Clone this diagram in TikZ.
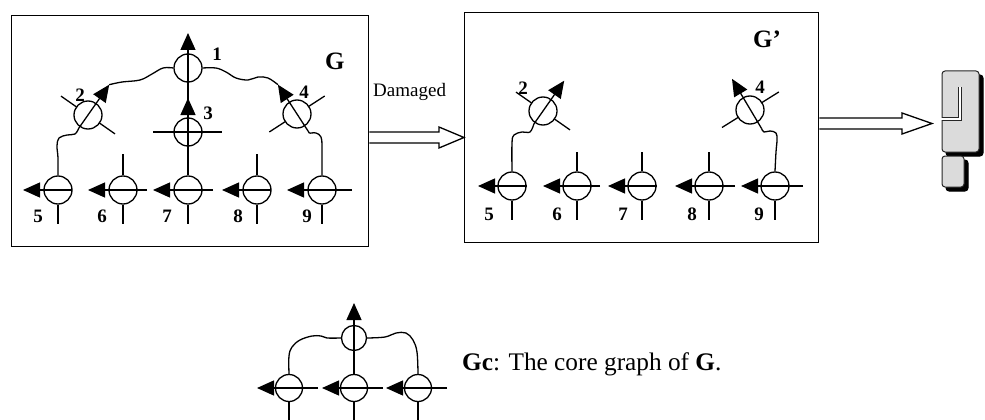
\documentclass[tikz,border=0pt]{standalone}
\usepackage{fontspec}
\setmainfont{Liberation Serif}
\usetikzlibrary{arrows.meta,calc}
\tikzset{
  lw/.style={line width=1.3pt},
  mod/.style={circle, draw, line width=1.3pt, minimum size=28pt, inner sep=0pt},
  modc/.style={mod, minimum size=25pt},
  modb/.style={mod, minimum size=27pt},
  tri/.style={-{Triangle[length=17pt,width=15pt]}},
  num/.style={inner sep=0pt, font=\bfseries\fontsize{19}{20}\selectfont},
  frame/.style={draw, line width=1.3pt, inner sep=0pt, anchor=north west},
  hollow/.style={line width=1.3pt, line join=miter},
  qshadow/.style={fill=black, draw=black, line width=1pt, rounded corners=3pt},
  qfront/.style={fill=black!14, draw=black!85, line width=1pt, rounded corners=3pt},
}
\begin{document}
\begin{tikzpicture}[x=1pt,y=-1pt]
\useasboundingbox (0,0) rectangle (985,420);

% ---------------- frames
\node[frame, minimum width=357pt, minimum height=231pt] (G) at (11,15) {};
\node[frame, minimum width=354pt, minimum height=230pt] (Gp) at (464,12) {};
\node[anchor=base west, inner sep=0pt, font=\bfseries\fontsize{25}{26}\selectfont] (Glab) at (325,70) {G};
\node[anchor=base west, inner sep=0pt, font=\bfseries\fontsize{25}{26}\selectfont] (Gplab) at (753,48) {G’};

% ---------------- graph G
\foreach \n/\x/\r/\up in {g5/58/14/0, g6/123/24/1, g7/188/25/0, g8/257/14/1, g9/322/30/0}{
  \node[mod] (\n) at (\x,190) {};
  \draw[lw,tri] ($(\n.center)+(\r,0)$) -- ($(\n.center)+(-35,0)$);
  \draw[lw] (\n.south) -- ++(0,19);
  \ifnum\up=1 \draw[lw] (\n.north) -- ++(0,-21); \fi
}
\node[mod] (g1) at (188,68) {};
\node[mod] (g3) at (188,132) {};
\node[mod] (g2) at (88,115) {};
\node[mod] (g4) at (297,114) {};
% vertical spine 7 - 3 - 1
\draw[lw,tri] (g7.north) -- ($(g1.center)+(0,-35)$);
\draw[lw,tri] (g3.center) -- ($(g3.center)+(0,-34)$);
\draw[lw] ($(g3.center)+(-35,0)$) -- ($(g3.center)+(34,0)$);
% module 2
\coordinate (g2t) at ($(g2)+(-55:37)$);
\coordinate (g2b) at ($(g2)+(125:16)$);
\draw[lw,tri] (g2b) -- (g2t);
\draw[lw] ($(g2)+(215:14)$) -- ($(g2)+(215:33)$);
\draw[lw] ($(g2)+(35:14)$) -- ($(g2)+(35:33)$);
% module 4
\coordinate (g4t) at ($(g4)+(-123:35)$);
\coordinate (g4b) at ($(g4)+(57:23)$);
\draw[lw,tri] (g4b) -- (g4t);
\draw[lw] ($(g4)+(-33:14)$) -- ($(g4)+(-33:33)$);
\draw[lw] ($(g4)+(147:14)$) -- ($(g4)+(147:33)$);
% wavy links
\draw[lw] plot[smooth, tension=0.6] coordinates {(g1.west) (163,68) (152,74) (140,80) (122,82) (g2t)};
\draw[lw] plot[smooth, tension=0.6] coordinates {(g1.east) (216,68) (226,72) (236,78) (248,80) (258,77) (268,78) (g4t)};
\draw[lw] plot[smooth, tension=0.6] coordinates {(g2b) (75,134) (67,135) (59,138) (57,146) (58,158) (g5.north)};
\draw[lw] plot[smooth, tension=0.6] coordinates {(g4b) (316,133) (321,137) (322,147) (g9.north)};
% labels
\node[num] (gl1) at (217,54) {1};
\node[num] (gl2) at (80,95) {2};
\node[num] (gl3) at (208,113) {3};
\node[num] (gl4) at (304,92) {4};
\foreach \t/\x in {5/38, 6/102, 7/167, 8/238, 9/307}{
  \node[num] (gl\t) at (\x,216) {\t};
}

% ---------------- arrow G -> G'
\coordinate (a1s) at ($(G.north east)+(0,122.5)$);
\coordinate (a1e) at ($(Gp.north west)+(0,125.5)$);
\draw[hollow] ($(a1s)+(0,-5.5)$) -- ($(a1e)+(-25,-5.5)$) -- ($(a1e)+(-25,-10.5)$) -- (a1e)
   -- ($(a1e)+(-25,10.5)$) -- ($(a1e)+(-25,5.5)$) -- ($(a1s)+(0,5.5)$);
\node[anchor=base west, inner sep=0pt, font=\fontsize{19}{20}\selectfont] (dmg) at (373,96.5) {Damaged};

% ---------------- graph G'
\foreach \n/\x/\r/\up in {h5/512/15/0, h6/577/23/1, h7/642/15/1, h8/709/26/1, h9/775/28/0}{
  \node[mod] (\n) at (\x,186) {};
  \draw[lw,tri] ($(\n.center)+(\r,0)$) -- ($(\n.center)+(-34,0)$);
  \draw[lw] (\n.south) -- ++(0,19);
  \ifnum\up=1 \draw[lw] (\n.north) -- ++(0,-19); \fi
}
\node[mod] (h2) at (543,111) {};
\node[mod] (h4) at (750,110) {};
\coordinate (h2t) at ($(h2)+(-55:37)$);
\coordinate (h2b) at ($(h2)+(125:16)$);
\draw[lw,tri] (h2b) -- (h2t);
\draw[lw] ($(h2)+(215:14)$) -- ($(h2)+(215:33)$);
\draw[lw] ($(h2)+(35:14)$) -- ($(h2)+(35:33)$);
\coordinate (h4t) at ($(h4)+(-120:36)$);
\coordinate (h4b) at ($(h4)+(58:22)$);
\draw[lw,tri] (h4b) -- (h4t);
\draw[lw] ($(h4)+(-32:14)$) -- ($(h4)+(-32:34)$);
\draw[lw] ($(h4)+(148:14)$) -- ($(h4)+(148:33)$);
\draw[lw] plot[smooth, tension=0.6] coordinates {(h2b) (530,132) (522,132) (514,135) (512,143) (h5.north)};
\draw[lw] plot[smooth, tension=0.6] coordinates {(h4b) (764,132) (770,131) (776,133) (777,140) (776,152) (h9.north)};
\node[num] (hl2) at (523,88) {2};
\node[num] (hl4) at (760,87) {4};
\foreach \t/\x in {5/489, 6/557, 7/623, 8/692, 9/759}{
  \node[num] (hl\t) at (\x,214) {\t};
}

% ---------------- arrow G' -> ?
\coordinate (a2s) at ($(Gp.north east)+(0,111.5)$);
\coordinate (a2e) at (932,123.5);
\draw[hollow] ($(a2s)+(0,-5.5)$) -- ($(a2e)+(-30,-5.5)$) -- ($(a2e)+(-30,-10.5)$) -- (a2e)
   -- ($(a2e)+(-30,10.5)$) -- ($(a2e)+(-30,5.5)$) -- ($(a2s)+(0,5.5)$);

% ---------------- question mark (block shape with shadow)
\begin{scope}[shift={(4,4)}]
  \draw[qshadow] (942,71) -- (979,71) -- (979,152) -- (942,152) -- cycle;
  \draw[qshadow] (942,156) rectangle (964,187);
\end{scope}
\draw[qfront] (942,71) -- (979,71) -- (979,152) -- (942,152) -- cycle;
\draw[line width=3.6pt, black!85] (942,119) -- (960,119) -- (960,87);
\draw[line width=1.6pt, white] (941,119) -- (960,119) -- (960,86.5);
\draw[qfront] (942,156) rectangle (964,187);

% ---------------- core graph Gc
\node[modc] (c1) at (354,338) {};
\foreach \n/\x in {cb1/289, cb2/354, cb3/418}{
  \node[modb] (\n) at (\x,388) {};
  \draw[lw,tri] ($(\n.center)+(29,0)$) -- ($(\n.center)+(-32,0)$);
  \draw[lw] (\n.south) -- ++(0,20);
}
\draw[lw,tri] (cb2.north) -- ($(c1.center)+(0,-35)$);
\draw[lw] plot[smooth, tension=0.6] coordinates {(cb1.north) (289,356) (292,347) (300,340) (312,336) (321,336) (327,338) (c1.west)};
\draw[lw] plot[smooth, tension=0.6] coordinates {(c1.east) (385,337) (396,333) (406,333) (413,340) (417,352) (cb3.north)};
\node[anchor=base west, inner sep=0pt, font=\fontsize{25.3}{26}\selectfont] (gc) at (462,370) {\textbf{Gc}: The core graph of \textbf{G}.};
\end{tikzpicture}
\end{document}
